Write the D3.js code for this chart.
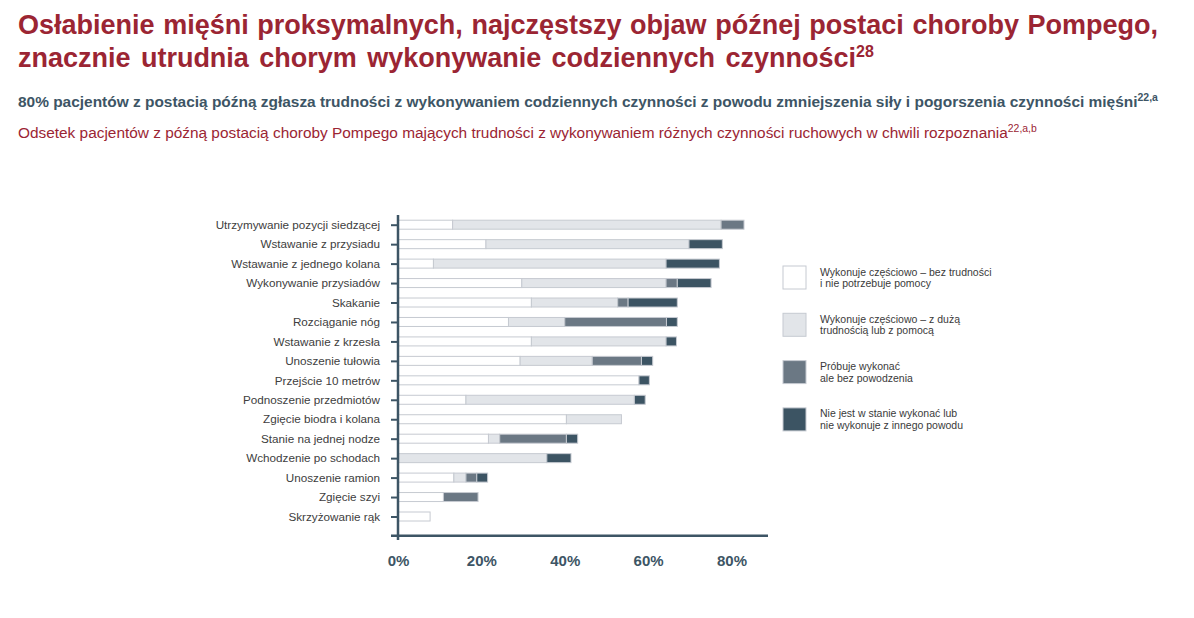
<!DOCTYPE html>
<html>
<head>
<meta charset="utf-8">
<script src="https://cdn.jsdelivr.net/npm/d3@7/dist/d3.min.js"></script>
<style>
  body { margin: 0; background: #fff; }
  svg { display: block; font-family: "Liberation Sans", Arial, sans-serif; }
</style>
</head>
<body>
<svg id="chart" width="1194" height="618"></svg>
<script>
// activities, top to bottom
var activities = [
  'Utrzymywanie pozycji siedzącej',
  'Wstawanie z przysiadu',
  'Wstawanie z jednego kolana',
  'Wykonywanie przysiadów',
  'Skakanie',
  'Rozciąganie nóg',
  'Wstawanie z krzesła',
  'Unoszenie tułowia',
  'Przejście 10 metrów',
  'Podnoszenie przedmiotów',
  'Zgięcie biodra i kolana',
  'Stanie na jednej nodze',
  'Wchodzenie po schodach',
  'Unoszenie ramion',
  'Zgięcie szyi',
  'Skrzyżowanie rąk'
];

// % of patients, one value per activity
var bezTrudnosci   = [13.1, 21.1, 8.5, 29.7, 32.0, 26.5, 32.0, 29.3, 57.8, 16.3, 40.4, 21.7, 0, 13.4, 10.9, 7.7];
var zTrudnoscia    = [64.4, 48.7, 55.8, 34.6, 20.7, 13.5, 32.3, 17.3, 0, 40.4, 13.2, 2.7, 35.7, 2.9, 0, 0];
var bezPowodzenia  = [5.5, 0, 0, 2.7, 2.5, 24.4, 0, 11.8, 0, 0, 0, 16.0, 0, 2.6, 8.3, 0];
var nieWykonuje    = [0, 8.0, 12.8, 8.1, 11.8, 2.6, 2.5, 2.7, 2.5, 2.6, 0, 2.7, 5.8, 2.6, 0, 0];

var seriesKeys = ['bez', 'trud', 'proba', 'nie'];
var legendLines = [
  ['Wykonuje częściowo – bez trudności', 'i nie potrzebuje pomocy'],
  ['Wykonuje częściowo – z dużą', 'trudnością lub z pomocą'],
  ['Próbuje wykonać', 'ale bez powodzenia'],
  ['Nie jest w stanie wykonać lub', 'nie wykonuje z innego powodu']
];
var xTicks = [0, 20, 40, 60, 80];

var colors = { bez: '#ffffff', trud: '#e2e5e9', proba: '#6b7884', nie: '#3c5463' };
var red = '#9b2533';
var slate = '#3d5565';

var svg = d3.select('#chart');

/**
 * Headings
 */
function fitWords(sel, target) {
  var main = sel.select('tspan.main');
  var w = main.node().getComputedTextLength();
  var spaces = main.text().split(' ').length - 1;
  sel.style('word-spacing', ((target - w) / spaces) + 'px');
}
// scale font so the main run fills the target width
function fitSize(sel, target, size, supSize) {
  sel.style('font-size', size + 'px');
  var w = sel.select('tspan.main').node().getComputedTextLength();
  var k = target / w;
  sel.style('font-size', (size * k) + 'px');
  sel.select('tspan.sup').style('font-size', (supSize * k) + 'px');
}

var t1 = svg.append('text')
  .attr('x', 18).attr('y', 34)
  .attr('fill', red)
  .style('font-size', '27px')
  .style('font-weight', 'bold');
t1.append('tspan').attr('class', 'main')
  .text('Osłabienie mięśni proksymalnych, najczęstszy objaw późnej postaci choroby Pompego,');
fitWords(t1, 1140);

var t2 = svg.append('text')
  .attr('x', 18).attr('y', 67)
  .attr('fill', red)
  .style('font-size', '27px')
  .style('font-weight', 'bold');
t2.append('tspan').attr('class', 'main')
  .text('znacznie utrudnia chorym wykonywanie codziennych czynności');
t2.append('tspan').attr('dy', -10).style('font-size', '16px').style('word-spacing', '0px').text('28');
fitWords(t2, 838);

var s1 = svg.append('text')
  .attr('x', 18).attr('y', 107)
  .attr('fill', slate)
  .style('font-weight', 'bold');
s1.append('tspan').attr('class', 'main')
  .text('80% pacjentów z postacią późną zgłasza trudności z wykonywaniem codziennych czynności z powodu zmniejszenia siły i pogorszenia czynności mięśni');
s1.append('tspan').attr('class', 'sup').attr('dy', -6).text('22,a');
fitSize(s1, 1121, 14, 9.5);

var s2 = svg.append('text')
  .attr('x', 18).attr('y', 138)
  .attr('fill', red);
s2.append('tspan').attr('class', 'main')
  .text('Odsetek pacjentów z późną postacią choroby Pompego mających trudności z wykonywaniem różnych czynności ruchowych w chwili rozpoznania');
s2.append('tspan').attr('class', 'sup').attr('dy', -6).text('22,a,b');
fitSize(s2, 991, 14, 9.5);

/**
 * Scales
 */
var x = d3.scaleLinear().domain([0, 80]).range([398, 731.5]);
var y = d3.scalePoint().domain(activities).range([224.7, 516.5]);
var barH = 9;

var rows = activities.map(function (a, i) {
  return { activity: a, bez: bezTrudnosci[i], trud: zTrudnoscia[i], proba: bezPowodzenia[i], nie: nieWykonuje[i] };
});
var stacked = d3.stack().keys(seriesKeys)(rows);

/**
 * Bars
 */
var barLayer = svg.append('g').attr('id', 'bars');

stacked.forEach(function (series) {
  barLayer.append('g')
    .attr('fill', colors[series.key])
    .selectAll('rect')
    .data(series.filter(function (d) { return d[1] - d[0] > 0; }))
    .enter()
    .append('rect')
    .attr('x', function (d) { return x(d[0]); })
    .attr('width', function (d) { return x(d[1]) - x(d[0]); })
    .attr('y', function (d) { return y(d.data.activity) - barH / 2; })
    .attr('height', barH)
    .attr('stroke', '#c6cad1')
    .attr('stroke-width', 1);
});

/**
 * Axes
 */
var yAxis = svg.append('g')
  .attr('transform', 'translate(398,0)')
  .call(d3.axisLeft(y).tickSize(7).tickPadding(11));
yAxis.select('.domain').remove();
yAxis.selectAll('line').attr('stroke', slate).attr('stroke-width', 2);
yAxis.selectAll('text')
  .attr('fill', '#404040')
  .style('font-size', '11.7px')
  .style('font-family', '"Liberation Sans", Arial, sans-serif');

var xAxis = svg.append('g')
  .attr('transform', 'translate(0,535.7)')
  .call(d3.axisBottom(x).tickValues(xTicks).tickSize(0).tickPadding(19.6)
    .tickFormat(function (d) { return d + '%'; }));
xAxis.select('.domain').remove();
xAxis.selectAll('text')
  .attr('fill', slate)
  .style('font-size', '15px')
  .style('font-weight', 'bold')
  .style('font-family', '"Liberation Sans", Arial, sans-serif');

svg.append('line')
  .attr('x1', 398).attr('x2', 398)
  .attr('y1', 215).attr('y2', 540)
  .attr('stroke', slate).attr('stroke-width', 2.5);
svg.append('line')
  .attr('x1', 391).attr('x2', 768)
  .attr('y1', 535.7).attr('y2', 535.7)
  .attr('stroke', slate).attr('stroke-width', 2.5);

/**
 * Legend
 */
var legend = svg.append('g')
  .selectAll('g')
  .data(seriesKeys)
  .enter()
  .append('g')
  .attr('transform', function (d, i) { return 'translate(783,' + (266 + i * 47.3) + ')'; });

legend.append('rect')
  .attr('width', 23).attr('height', 23)
  .attr('fill', function (d) { return colors[d]; })
  .attr('stroke', '#c6cad1');

legend.each(function (d, i) {
  var g = d3.select(this);
  legendLines[i].forEach(function (line, j) {
    g.append('text')
      .attr('x', 37)
      .attr('y', 9.5 + j * 11.5)
      .attr('fill', '#3a3a3a')
      .style('font-size', '10.5px')
      .text(line);
  });
});
</script>
</body>
</html>
